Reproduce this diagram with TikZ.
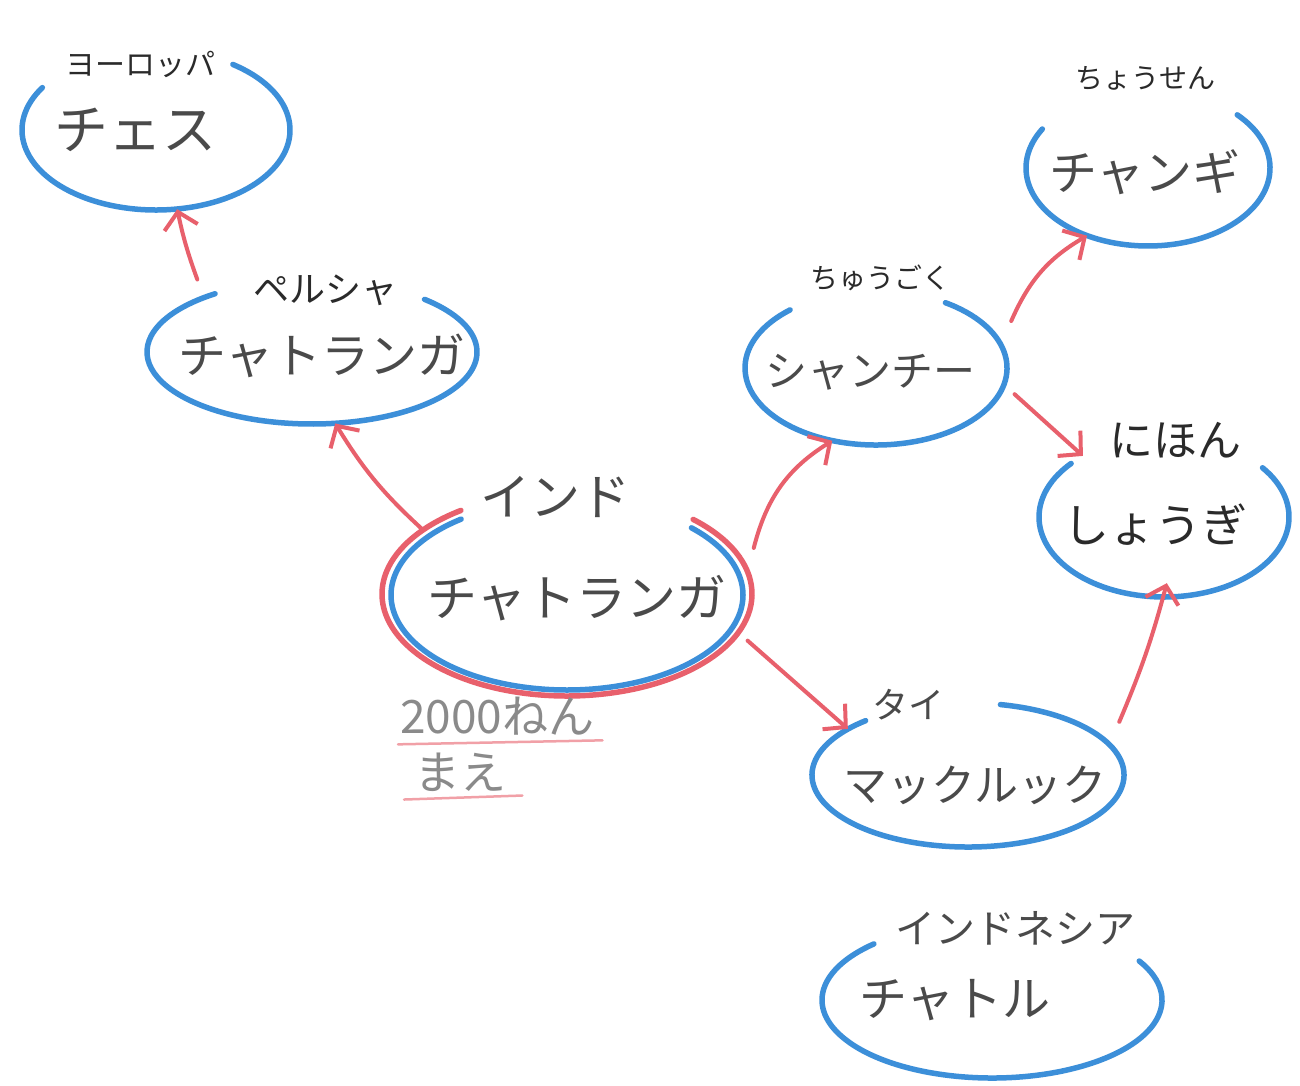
\documentclass[tikz,border=0pt]{standalone}
\usepackage{fontspec}
\newfontfamily\jp{Noto Sans CJK JP}
\usetikzlibrary{shapes.geometric,arrows.meta}
\definecolor{blobblue}{HTML}{3C8FD9}
\definecolor{arrred}{HTML}{E8606C}
\definecolor{inkgray}{HTML}{4A4A4A}
\definecolor{inkdark}{HTML}{2A2A2A}
\definecolor{lightink}{HTML}{8A8A8A}
\newcommand\blobarc[6][blobblue]{\draw[blob,draw=#1] ([shift={(#3:#5pt and #6pt)}]#2.center) arc[start angle=#3, end angle=#4, x radius=#5pt, y radius=#6pt];}
\tikzset{
  blob/.style={line width=5.5pt, line cap=round},
  area/.style={ellipse, draw=none, inner sep=0pt},
  arr/.style={draw=arrred, line width=4pt, line cap=round,
    -{Straight Barb[length=16pt,width=34pt,line width=4pt]}},
  maintxt/.style={text=inkgray, inner sep=0pt, font=\jp\fontsize{48}{56}\selectfont},
  lbl/.style={text=inkdark, inner sep=0pt, font=\jp\fontsize{30}{36}\selectfont},
  uline/.style={draw=arrred!60, line width=2.5pt, line cap=round},
  notetxt/.style={text=lightink, anchor=west, inner sep=0pt, font=\jp\fontsize{46}{52}\selectfont},
}
\begin{document}
\begin{tikzpicture}[x=1pt,y=-1pt]
\useasboundingbox[fill=white] (0,0) rectangle (1300,1086);

% invisible blob areas
\node[area, minimum width=268pt, minimum height=160pt] (eu) at (156,130) {};
\node[area, minimum width=330pt, minimum height=144pt] (per) at (312,352) {};
\node[area, minimum width=370pt, minimum height=204pt] (ind) at (567,594) {};
\node[area, minimum width=262pt, minimum height=154pt] (chn) at (876,368) {};
\node[area, minimum width=244pt, minimum height=156pt] (kor) at (1148,168) {};
\node[area, minimum width=250pt, minimum height=160pt] (jpn) at (1164,517) {};
\node[area, minimum width=312pt, minimum height=144pt] (tha) at (968,775) {};
\node[area, minimum width=340pt, minimum height=156pt] (idn) at (992,1000) {};

% blob outlines (open at the top where the label sits)
\blobarc{eu}{55}{-212}{134}{80}
\blobarc{per}{47}{-234}{165}{72}
\blobarc[arrred]{ind}{47}{-235}{185}{102}
\draw[blob,draw=blobblue] ([shift={(45:176pt and 95pt)}]ind.center) ++(0,1) arc[start angle=45, end angle=-233, x radius=176pt, y radius=95pt];
\blobarc{chn}{58}{-229}{131}{77}
\blobarc{kor}{43}{-210}{122}{78}
\blobarc{jpn}{38}{-222}{125}{80}
\blobarc{tha}{78}{-229}{156}{72}
\blobarc{idn}{30}{-226}{170}{78}

% texts
\node[lbl] (eul) at (140,64) {ヨーロッパ};
\node[maintxt, font=\jp\fontsize{54}{60}\selectfont] (eum) at (135,130) {チェス};
\node[lbl, font=\jp\fontsize{36}{40}\selectfont] (perl) at (325,290) {ペルシャ};
\node[maintxt] (perm) at (322,356) {チャトランガ};
\node[lbl, text=inkgray, font=\jp\fontsize{50}{56}\selectfont] (indl) at (555,497) {インド};
\node[maintxt, font=\jp\fontsize{50}{56}\selectfont] (indm) at (577,598) {チャトランガ};
\node[notetxt] (yr) at (400,716) {2000ねん};
\node[notetxt] (ago) at (414,772) {まえ};
\draw[uline] ([shift={(-2,9)}]yr.south west) -- ([shift={(8,5)}]yr.south east);
\draw[uline] ([shift={(-10,8)}]ago.south west) -- ([shift={(16,4)}]ago.south east);
\node[lbl, font=\jp\fontsize{28}{34}\selectfont] (chnl) at (880,278) {ちゅうごく};
\node[maintxt, font=\jp\fontsize{42}{48}\selectfont] (chnm) at (870,372) {シャンチー};
\node[lbl, font=\jp\fontsize{28}{34}\selectfont] (korl) at (1145,78) {ちょうせん};
\node[maintxt] (korm) at (1145,172) {チャンギ};
\node[lbl, font=\jp\fontsize{44}{50}\selectfont] (jpnl) at (1175,440) {にほん};
\node[maintxt, text=inkdark, font=\jp\fontsize{46}{52}\selectfont] (jpnm) at (1155,525) {しょうぎ};
\node[lbl, text=inkgray, font=\jp\fontsize{36}{40}\selectfont] (thal) at (908,705) {タイ};
\node[maintxt, font=\jp\fontsize{44}{50}\selectfont] (tham) at (975,785) {マックルック};
\node[lbl, text=inkgray, font=\jp\fontsize{40}{46}\selectfont] (idnl) at (1015,928) {インドネシア};
\node[maintxt] (idnm) at (955,1000) {チャトル};

% connectors
\draw[arr] ([shift={(-15,-15)}]per.150) to[bend left=4] (eu.-75);
\draw[arr] (ind.156) to[bend left=8] (per.-72);
\draw[arr] ([shift={(18,-4)}]ind.14) to[bend left=22] (chn.-121);
\draw[arr] ([shift={(14,2)}]ind.-15) -- (tha.159);
\draw[arr] ([shift={(22,-8)}]chn.19) to[bend left=18] (kor.-132);
\draw[arr] ([shift={(14,2)}]chn.-11) -- (jpn.143);
\draw[arr] ([shift={(26,-10)}]tha.19) to[bend right=4] ([yshift=14]jpn.-88);
\end{tikzpicture}
\end{document}
